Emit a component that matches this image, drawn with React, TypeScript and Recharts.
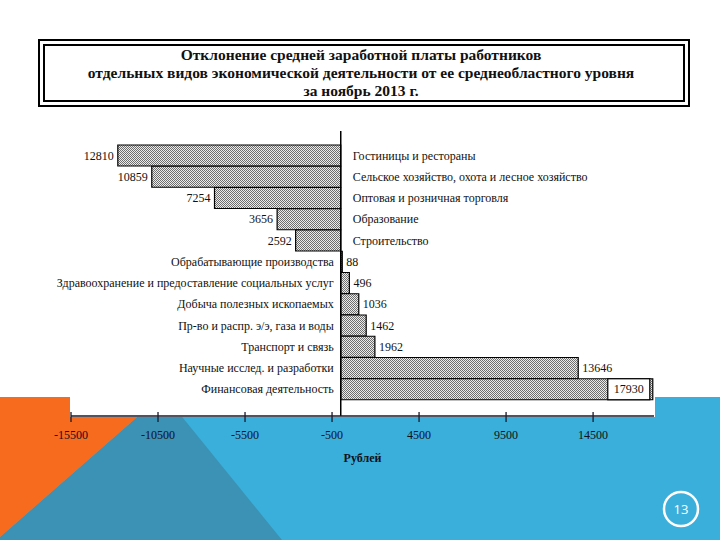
import React from 'react';
import { BarChart, Bar, XAxis, YAxis, ReferenceLine, LabelList } from 'recharts';

const categories = [
  'Гостиницы и рестораны',
  'Сельское хозяйство, охота и лесное хозяйство',
  'Оптовая и розничная торговля',
  'Образование',
  'Строительство',
  'Обрабатывающие производства',
  'Здравоохранение и предоставление социальных услуг',
  'Добыча полезных ископаемых',
  'Пр-во и распр. э/э, газа и воды',
  'Транспорт и связь',
  'Научные исслед. и разработки',
  'Финансовая деятельность',
];

const deviations = [-12810, -10859, -7254, -3656, -2592, 88, 496, 1036, 1462, 1962, 13646, 17930];

const xTicks = [-15500, -10500, -5500, -500, 4500, 9500, 14500];

const data = categories.map((name, i) => ({ name, value: deviations[i] }));

const SERIF = '"Liberation Serif", "Times New Roman", serif';

function XTick(props: any) {
  const { x, y, payload } = props;
  return (
    <g>
      <line x1={x} x2={x} y1={y - 4} y2={y + 6} stroke="#1a1a2a" strokeWidth={1.3} />
      <text x={x} y={y + 23} textAnchor="middle" fontSize={12} style={{ fontFamily: SERIF }} fill="#101020">
        {payload.value}
      </text>
    </g>
  );
}

function NameLabel(props: any) {
  const { x, y, width, height, index } = props;
  const v = deviations[index];
  const left = Math.min(x, x + width);
  const right = Math.max(x, x + width);
  const zero = v < 0 ? right : left;
  const cy = y + height / 2;
  return (
    <text
      x={v < 0 ? zero + 12 : zero - 7}
      y={cy}
      dy="0.35em"
      textAnchor={v < 0 ? 'start' : 'end'}
      fontSize={12}
      style={{ fontFamily: SERIF }}
      fill="#111"
    >
      {categories[index]}
    </text>
  );
}

function ValueLabel(props: any) {
  const { x, y, width, height, index } = props;
  const v = deviations[index];
  const left = Math.min(x, x + width);
  const right = Math.max(x, x + width);
  const cy = y + height / 2;
  if (index === deviations.length - 1) {
    // last bar: value sits in a white box at the bar's end
    return (
      <g>
        <rect x={right - 45} y={y} width={42} height={height} fill="#fff" stroke="#000" strokeWidth={1.2} />
        <text x={right - 24} y={cy} dy="0.35em" textAnchor="middle" fontSize={12} style={{ fontFamily: SERIF }} fill="#111">
          {Math.abs(v)}
        </text>
      </g>
    );
  }
  return (
    <text
      x={v < 0 ? left - 4 : right + 4}
      y={cy}
      dy="0.35em"
      textAnchor={v < 0 ? 'end' : 'start'}
      fontSize={12}
      style={{ fontFamily: SERIF }}
      fill="#111"
    >
      {Math.abs(v)}
    </text>
  );
}

export default function App() {
  return (
    <div style={{ position: 'absolute', left: 0, top: 0, width: 720, height: 540, background: '#fff', overflow: 'hidden' }}>
      <svg width={720} height={540} style={{ position: 'absolute', left: 0, top: 0 }}>
        <rect x={0} y={397} width={720} height={143} fill="#3aafdb" />
        <polygon points="160,397 166,397 282,540 0,540 0,537" fill="#3b92b4" />
        <polygon points="0,397 160,397 0,537" fill="#f76b1e" />
        <rect x={70} y={390} width={585} height={27} fill="#fff" />
        <circle cx={681} cy={509} r={17} fill="none" stroke="#fff" strokeWidth={2.5} />
        <text x={681} y={509} dy="0.35em" textAnchor="middle" fontSize={13} fontFamily='"Open Sans", sans-serif' fill="#fff">
          13
        </text>
      </svg>

      <div
        style={{
          position: 'absolute',
          left: 38,
          top: 39,
          width: 648,
          height: 64,
          border: '2px solid #000',
        }}
      >
        <div
          style={{
            position: 'absolute',
            left: 3,
            top: 3,
            right: 3,
            bottom: 3,
            border: '2px solid #000',
            display: 'flex',
            flexDirection: 'column',
            justifyContent: 'center',
            alignItems: 'center',
            fontFamily: SERIF,
            fontWeight: 'bold',
            fontSize: 15.5,
            lineHeight: '18px',
            color: '#111',
            textAlign: 'center',
            paddingRight: 6,
          }}
        >
          <div>Отклонение средней заработной платы работников</div>
          <div>отдельных видов экономической деятельности от ее среднеобластного уровня</div>
          <div>за ноябрь 2013 г.</div>
        </div>
      </div>

      <div style={{ position: 'absolute', left: 0, top: 0 }}>
        <BarChart
          width={720}
          height={540}
          data={data}
          layout="vertical"
          barCategoryGap={0}
          margin={{ top: 131, right: 66, bottom: 94, left: 71 }}
        >
          <defs>
            <pattern id="checker" width={2} height={2} patternUnits="userSpaceOnUse">
              <rect width={2} height={2} fill="#ececec" />
              <rect width={1} height={1} fill="#6e6e6e" />
              <rect x={1} y={1} width={1} height={1} fill="#6e6e6e" />
            </pattern>
          </defs>
          <XAxis
            type="number"
            domain={[-15500, 18000]}
            ticks={xTicks}
            interval={0}
            height={30}
            tickSize={0}
            tickMargin={0}
            tickLine={false}
            tick={<XTick />}
            axisLine={{ stroke: '#1a1a2a', strokeWidth: 1.3 }}
            label={{
              value: 'Рублей',
              position: 'bottom',
              offset: 7,
              fontSize: 12,
              fontWeight: 'bold',
              fontFamily: SERIF,
              fill: '#101020',
            }}
          />
          <YAxis type="category" dataKey="name" hide width={0} padding={{ top: 14, bottom: 16 }} />
          <Bar dataKey="value" fill="url(#checker)" stroke="#000" strokeWidth={1.2} isAnimationActive={false}>
            <LabelList dataKey="name" content={<NameLabel />} />
            <LabelList dataKey="value" content={<ValueLabel />} />
          </Bar>
          <ReferenceLine x={0} stroke="#000" strokeWidth={1.5} />
        </BarChart>
      </div>
    </div>
  );
}
